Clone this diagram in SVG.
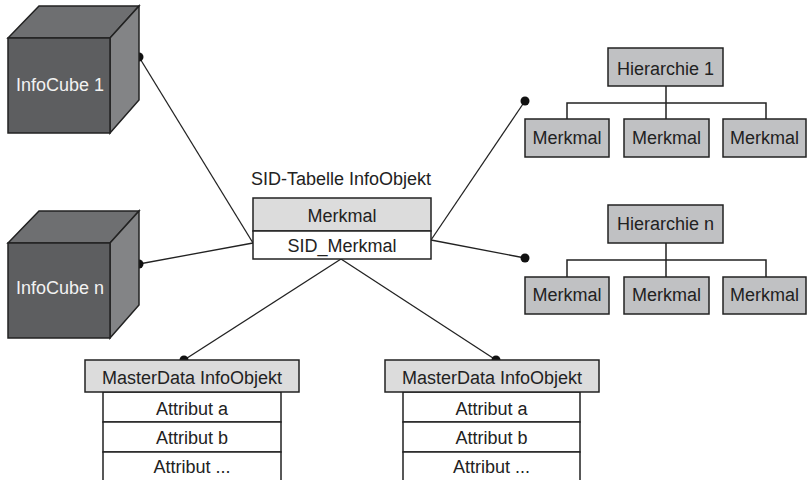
<svg xmlns="http://www.w3.org/2000/svg" width="807" height="480" viewBox="0 0 807 480">
  <style>
    text { font-family: "Liberation Sans", Arial, sans-serif; font-size: 18px; fill: #222; text-anchor: middle; }
    .cube-front { fill: #5d5e60; stroke: #222; stroke-width: 1.5; }
    .cube-top { fill: #6e6f71; stroke: #222; stroke-width: 1.5; }
    .cube-side { fill: #838486; stroke: #222; stroke-width: 1.5; }
    .cube-label { fill: #f2f2f2; }
    .hbox { fill: #c0c1c3; stroke: #222; stroke-width: 1.5; }
    .head { fill: #dcdcdc; stroke: #222; stroke-width: 1.5; }
    .row { fill: #fff; stroke: #222; stroke-width: 1.5; }
    .wire { stroke: #222; stroke-width: 1.3; fill: none; }
    .tree { stroke: #222; stroke-width: 1.5; fill: none; }
    .dot { fill: #111; }
  </style>

  <!-- connectors -->
  <g id="connectors">
    <line class="wire" x1="139" y1="57" x2="253" y2="243"/>
    <line class="wire" x1="139" y1="264" x2="253" y2="243"/>
    <line class="wire" x1="431" y1="240" x2="525" y2="101"/>
    <line class="wire" x1="431" y1="240" x2="525" y2="258"/>
    <line class="wire" x1="341" y1="259" x2="184" y2="360"/>
    <line class="wire" x1="341" y1="259" x2="496" y2="360"/>
    <circle class="dot" cx="139" cy="57" r="4.5"/>
    <circle class="dot" cx="139" cy="264" r="4.5"/>
    <circle class="dot" cx="525" cy="101" r="4.5"/>
    <circle class="dot" cx="525" cy="258" r="4.5"/>
    <circle class="dot" cx="184" cy="360" r="4.5"/>
    <circle class="dot" cx="496" cy="360" r="4.5"/>
    <!-- hierarchy trees -->
    <path class="tree" d="M666 86 V103 M567 119 V103 H766 V119 M666 103 V119"/>
    <path class="tree" d="M666 243 V260 M567 277 V260 H766 V277 M666 260 V277"/>
  </g>

  <!-- InfoCube 1 -->
  <g id="infocube-1">
    <polygon class="cube-top" points="8,38 39,6 139,6 110,38"/>
    <polygon class="cube-side" points="110,38 139,6 139,100 110,133"/>
    <rect class="cube-front" x="8" y="38" width="102" height="95"/>
    <text class="cube-label" x="60" y="91">InfoCube 1</text>
  </g>

  <!-- InfoCube n -->
  <g id="infocube-n">
    <polygon class="cube-top" points="8,243 39,211 139,211 110,243"/>
    <polygon class="cube-side" points="110,243 139,211 139,305 110,338"/>
    <rect class="cube-front" x="8" y="243" width="102" height="95"/>
    <text class="cube-label" x="60" y="294">InfoCube n</text>
  </g>

  <!-- SID table -->
  <g id="sid-table">
    <text x="341" y="185">SID-Tabelle InfoObjekt</text>
    <rect class="head" x="253" y="198" width="178" height="33"/>
    <rect class="row" x="253" y="231" width="178" height="28"/>
    <text x="342" y="222">Merkmal</text>
    <text x="342" y="252">SID_Merkmal</text>
  </g>

  <!-- Hierarchie 1 -->
  <g id="hierarchie-1">
    <rect class="hbox" x="608" y="48" width="115" height="38"/>
    <text x="665.5" y="75">Hierarchie 1</text>
    <rect class="hbox" x="525" y="119" width="84" height="38"/>
    <text x="567" y="144">Merkmal</text>
    <rect class="hbox" x="624" y="119" width="85" height="38"/>
    <text x="666.5" y="144">Merkmal</text>
    <rect class="hbox" x="723" y="119" width="83" height="38"/>
    <text x="764.5" y="144">Merkmal</text>
  </g>

  <!-- Hierarchie n -->
  <g id="hierarchie-n">
    <rect class="hbox" x="608" y="205" width="115" height="38"/>
    <text x="665.5" y="230">Hierarchie n</text>
    <rect class="hbox" x="525" y="277" width="84" height="37"/>
    <text x="567" y="301">Merkmal</text>
    <rect class="hbox" x="624" y="277" width="85" height="37"/>
    <text x="666.5" y="301">Merkmal</text>
    <rect class="hbox" x="723" y="277" width="83" height="37"/>
    <text x="764.5" y="301">Merkmal</text>
  </g>

  <!-- MasterData InfoObjekt (left) -->
  <g id="masterdata-1">
    <rect class="row" x="103" y="392" width="178" height="30"/>
    <rect class="row" x="103" y="422" width="178" height="30"/>
    <rect class="row" x="103" y="452" width="178" height="40"/>
    <rect class="head" x="85" y="360" width="214" height="32"/>
    <text x="192" y="384">MasterData InfoObjekt</text>
    <text x="192" y="415">Attribut a</text>
    <text x="192" y="444">Attribut b</text>
    <text x="192" y="473">Attribut ...</text>
  </g>

  <!-- MasterData InfoObjekt (right) -->
  <g id="masterdata-2">
    <rect class="row" x="403" y="392" width="177" height="30"/>
    <rect class="row" x="403" y="422" width="177" height="30"/>
    <rect class="row" x="403" y="452" width="177" height="40"/>
    <rect class="head" x="385" y="360" width="214" height="32"/>
    <text x="492" y="384">MasterData InfoObjekt</text>
    <text x="491.5" y="415">Attribut a</text>
    <text x="491.5" y="444">Attribut b</text>
    <text x="491.5" y="473">Attribut ...</text>
  </g>
</svg>
